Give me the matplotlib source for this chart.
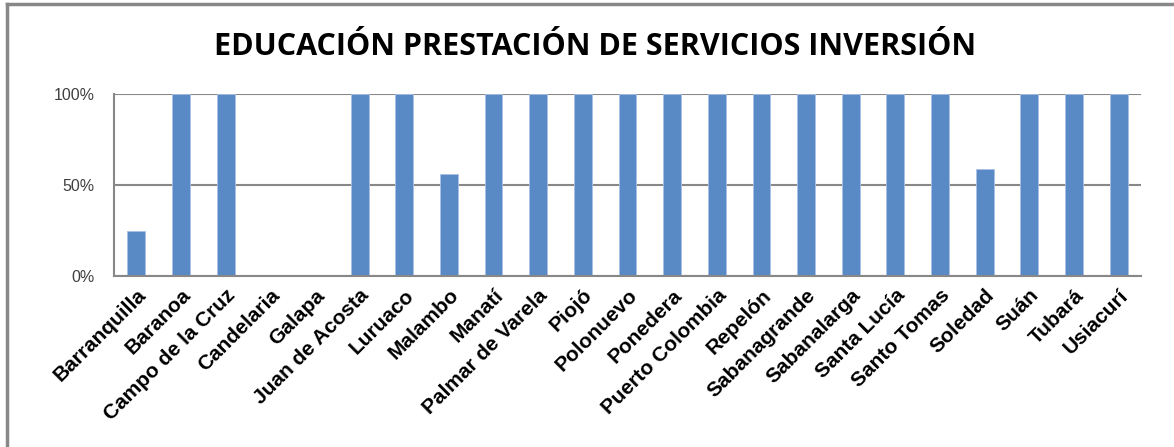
import matplotlib
matplotlib.use("Agg")
import matplotlib.pyplot as plt
from matplotlib.ticker import PercentFormatter

municipios = ["Barranquilla", "Baranoa", "Campo de la Cruz", "Candelaria", "Galapa",
              "Juan de Acosta", "Luruaco", "Malambo", "Manatí", "Palmar de Varela",
              "Piojó", "Polonuevo", "Ponedera", "Puerto Colombia", "Repelón",
              "Sabanagrande", "Sabanalarga", "Santa Lucía", "Santo Tomas", "Soledad",
              "Suán", "Tubará", "Usiacurí"]
valores = [25, 100, 100, 0, 0, 100, 100, 56, 100, 100, 100, 100, 100, 100, 100,
           100, 100, 100, 100, 59, 100, 100, 100]
yticks = [0, 50, 100]
titulo = "EDUCACIÓN PRESTACIÓN DE SERVICIOS INVERSIÓN"

fig = plt.figure(figsize=(11.74, 4.47), dpi=100)
ax = fig.add_axes([114/1174, 1-276/447, (1141-114)/1174, (276-94)/447])

x = range(len(municipios))
ax.bar(x, valores, width=0.40, color="#5A8AC6", edgecolor="#a9c1e2", linewidth=0.6, zorder=3)
ax.set_xlim(-0.5, len(municipios)-0.5)
ax.set_ylim(0, 100)
ax.set_yticks(yticks)
ax.yaxis.set_major_formatter(PercentFormatter(decimals=0))
ax.grid(axis="y", color="#888888", linewidth=1.5, zorder=0)
for s in ["top", "right"]:
    ax.spines[s].set_visible(False)
for s in ["left", "bottom"]:
    ax.spines[s].set_color("#888888")
    ax.spines[s].set_linewidth(1.5)
ax.spines["bottom"].set_zorder(4)
ax.tick_params(axis="both", length=0)
ax.tick_params(axis="y", labelsize=11.5, colors="#404040", pad=14)
ax.tick_params(axis="x", pad=7)
ax.set_xticks(list(x))
ax.set_xticklabels(municipios, rotation=45, ha="right", rotation_mode="anchor",
                   fontsize=15, fontweight="bold", family="Liberation Sans")
for lab in ax.get_yticklabels():
    lab.set_family("Liberation Sans")

fig.text(595/1174, 1-47/447, titulo, ha="center", va="center", fontsize=22,
         fontweight="bold", family="Open Sans")

# outer frame
fig.add_artist(plt.Line2D([7/1174, 7/1174], [0, 1-4/447], color="#888888", linewidth=2.5,
                          transform=fig.transFigure))
fig.add_artist(plt.Line2D([7/1174, 1], [1-4/447, 1-4/447], color="#888888", linewidth=2.5,
                          transform=fig.transFigure))

fig.savefig("out.png", dpi=100)
